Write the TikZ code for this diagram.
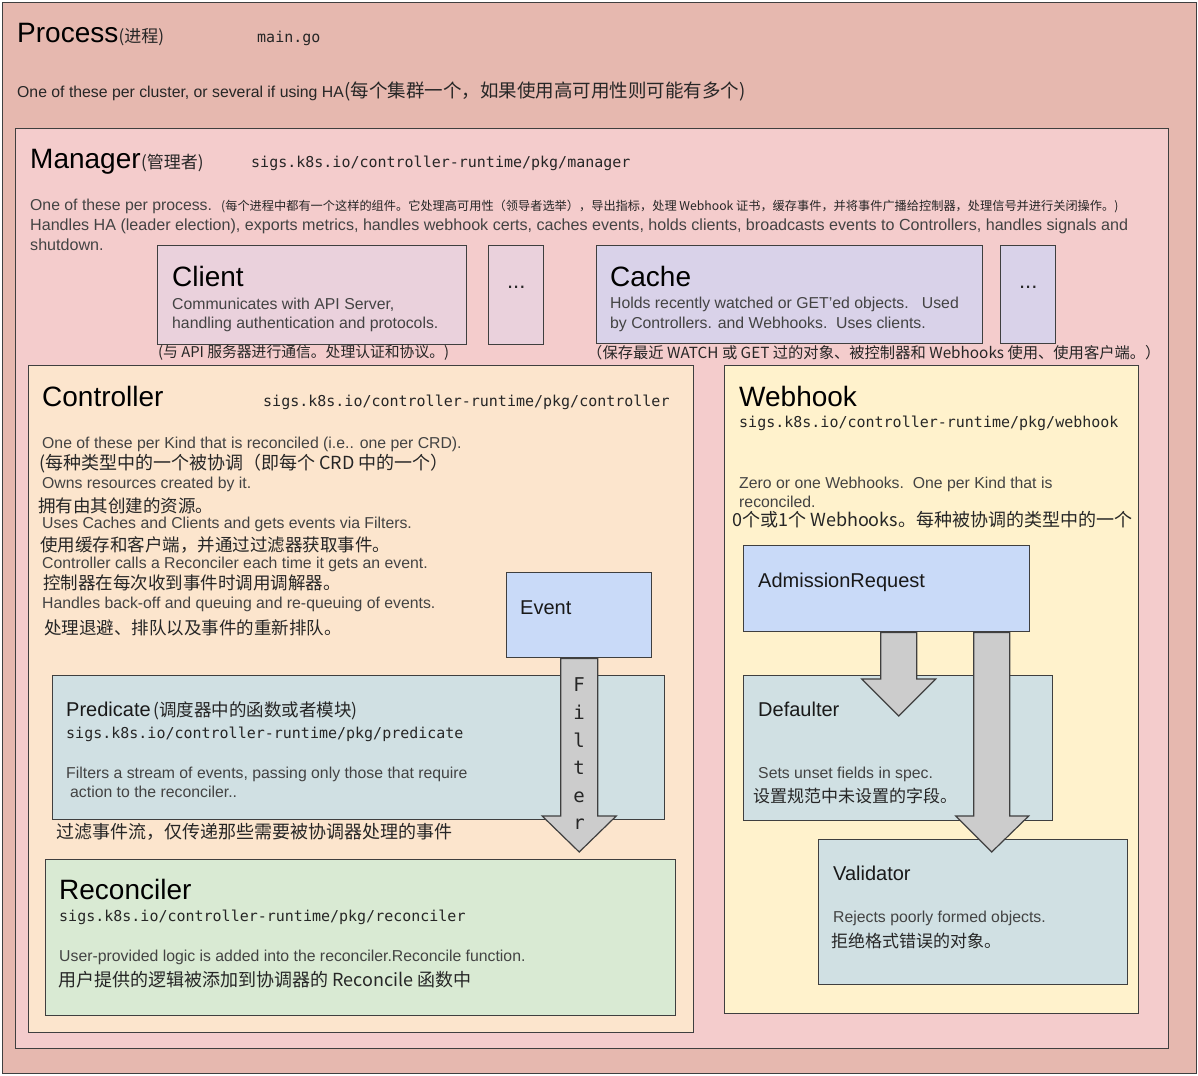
\documentclass[tikz,border=0pt]{standalone}
\usepackage{fontspec}
\setmainfont{Liberation Sans}
\setmonofont{DejaVu Sans Mono}
\newfontfamily\cjk{Noto Sans CJK SC}
\usetikzlibrary{calc}
\definecolor{procfill}{HTML}{E6B8AF}
\definecolor{mgrfill}{HTML}{F4CCCC}
\definecolor{clientfill}{HTML}{EAD1DC}
\definecolor{cachefill}{HTML}{D9D2E9}
\definecolor{ctrlfill}{HTML}{FCE5CD}
\definecolor{hookfill}{HTML}{FFF2CC}
\definecolor{bluefill}{HTML}{C9DAF8}
\definecolor{tealfill}{HTML}{D0E0E3}
\definecolor{greenfill}{HTML}{D9EAD3}
\definecolor{arrowfill}{HTML}{CCCCCC}
\definecolor{edgecol}{HTML}{3F3F3F}
\definecolor{desctext}{HTML}{434343}
\newcommand{\fsz}[1]{\fontsize{#1}{#1}\selectfont}
\begin{document}
\begin{tikzpicture}[x=1pt,y=-1pt,
  box/.style={draw=edgecol, line width=1.4pt, inner sep=0pt, anchor=north west},
  lbl/.style={anchor=base west, inner sep=0pt},
  ttl/.style={lbl, font=\fsz{28}, text=black},
  hdr/.style={lbl, font=\fsz{20}, text=black!90},
  desc/.style={lbl, font=\fsz{15.8}, text=desctext},
  zh/.style={lbl, font=\cjk\fsz{17.5}, text=black!85},
  pkg/.style={lbl, font=\ttfamily\fsz{15}, text=black!85},
  dotslbl/.style={lbl, anchor=base, font=\fsz{22}, text=black!85},
  blockarrow/.style={draw=edgecol, line width=1.2pt, fill=arrowfill, line join=miter}
]
\useasboundingbox (0,0) rectangle (1198,1075);

% ---------- boxes ----------
\node[box, fill=procfill, minimum width=1194pt, minimum height=1071pt] (process) at (2,2) {};
\node[box, fill=mgrfill, minimum width=1153pt, minimum height=920pt] (manager) at (15,128) {};
\node[box, fill=clientfill, minimum width=309pt, minimum height=99pt] (client) at (157,245) {};
\node[box, fill=clientfill, minimum width=55pt, minimum height=99pt] (cdots) at (488,245) {};
\node[box, fill=cachefill, minimum width=386pt, minimum height=98pt] (cache) at (596,245) {};
\node[box, fill=cachefill, minimum width=55pt, minimum height=98pt] (kdots) at (1000,245) {};
\node[box, fill=ctrlfill, minimum width=665pt, minimum height=667pt] (controller) at (28,365) {};
\node[box, fill=hookfill, minimum width=414pt, minimum height=648pt] (webhook) at (724,365) {};
\node[box, fill=bluefill, minimum width=145pt, minimum height=85pt] (event) at (506,572) {};
\node[box, fill=tealfill, minimum width=612pt, minimum height=144pt] (predicate) at (52,675) {};
\node[box, fill=greenfill, minimum width=630pt, minimum height=156pt] (reconciler) at (45,859) {};
\node[box, fill=bluefill, minimum width=286pt, minimum height=86pt] (admission) at (743,545) {};
\node[box, fill=tealfill, minimum width=309pt, minimum height=145pt] (defaulter) at (743,675) {};
\node[box, fill=tealfill, minimum width=309pt, minimum height=145pt] (validator) at (818,839) {};

% ---------- block arrows ----------
\draw[blockarrow] let \p1=(event.south), \p2=(reconciler.north) in
  (\x1-18.5pt,\y1) -- (\x1-18.5pt,\y2+43pt) -- (\x1-37pt,\y2+43pt) -- (\x1,\y2+7pt)
  -- (\x1+37pt,\y2+43pt) -- (\x1+18.5pt,\y2+43pt) -- (\x1+18.5pt,\y1) -- cycle;
\draw[blockarrow] let \p1=(admission.south), \p2=(defaulter.north) in
  (\x1-6pt,\y1) -- (\x1-6pt,\y2-4pt) -- (\x1-25pt,\y2-4pt) -- (\x1+12pt,\y2-41pt)
  -- (\x1+49pt,\y2-4pt) -- (\x1+30pt,\y2-4pt) -- (\x1+30pt,\y1) -- cycle;
\draw[blockarrow] let \p1=(admission.south), \p2=(validator.north) in
  (\x1+87pt,\y1) -- (\x1+87pt,\y2+23pt) -- (\x1+69pt,\y2+23pt) -- (\x1+105pt,\y2-13pt)
  -- (\x1+142pt,\y2+23pt) -- (\x1+123pt,\y2+23pt) -- (\x1+123pt,\y1) -- cycle;

% ---------- process ----------
\node[ttl] (ptitle) at (17,43) {Process};
\node[lbl, font=\cjk\fsz{17}, text=black!85] (psub) at (ptitle.base east) {(进程)};
\node[pkg] (pfile) at (257,43) {main.go};
\node[desc, text=black!85] (pdesc) at (17,98) {One of these per cluster, or several if using HA};
\node[lbl, font=\cjk\fsz{18.5}, text=black!85] (pzh) at (pdesc.base east) {(每个集群一个，如果使用高可用性则可能有多个)};

% ---------- manager ----------
\node[ttl] (mtitle) at (30,169) {Manager};
\node[lbl, font=\cjk\fsz{17}, text=black!85] (msub) at (mtitle.base east) {(管理者)};
\node[pkg] (mpkg) at (251,168) {sigs.k8s.io/controller-runtime/pkg/manager};
\node[desc] (mdesc1) at (30,211) {One of these per process.};
\node[lbl, font=\cjk\fsz{12.2}, text=black!85] (mzh) at (221,211) {(每个进程中都有一个这样的组件。它处理高可用性（领导者选举），导出指标，处理 Webhook 证书，缓存事件，并将事件广播给控制器，处理信号并进行关闭操作。)};
\node[desc, font=\fsz{16.1}] (mdesc2) at (30,231) {Handles HA (leader election), exports metrics, handles webhook certs, caches events, holds clients, broadcasts events to Controllers, handles signals and};
\node[desc, font=\fsz{16.1}] (mdesc3) at (30,251) {shutdown.};

% ---------- client / cache ----------
\node[ttl] (ctitle) at (172,286) {Client};
\node[desc] (cdesc1) at (172,309) {Communicates with API Server,};
\node[desc] (cdesc2) at (172,328) {handling authentication and protocols.};
\node[lbl, font=\cjk\fsz{14.8}, text=black!85] (czh) at (158,357) {(与 API 服务器进行通信。处理认证和协议。)};
\node[dotslbl] (cdotslbl) at ($(cdots.north)+(0,43)$) {...};

\node[ttl] (ktitle) at (610,286) {Cache};
\node[desc] (kdesc1) at (610,308) {Holds recently watched or GET'ed objects.\ \ \ Used};
\node[desc] (kdesc2) at (610,328) {by Controllers. and Webhooks.\ \ Uses clients.};
\node[lbl, font=\cjk\fsz{15.3}, text=black!85] (kzh) at (587,358) {（保存最近 WATCH 或 GET 过的对象、被控制器和 Webhooks 使用、使用客户端。）};
\node[dotslbl] (kdotslbl) at ($(kdots.north)+(0,43)$) {...};

% ---------- controller ----------
\node[ttl] (cttitle) at (42,406) {Controller};
\node[pkg] (ctpkg) at (263,406) {sigs.k8s.io/controller-runtime/pkg/controller};
\node[desc] (ct1) at (42,448) {One of these per Kind that is reconciled (i.e.. one per CRD).};
\node[zh, font=\cjk\fsz{18}] (ct1zh) at (39,469) {(每种类型中的一个被协调（即每个 CRD 中的一个）};
\node[desc] (ct2) at (42,488) {Owns resources created by it.};
\node[zh] (ct2zh) at (38,512) {拥有由其创建的资源。};
\node[desc] (ct3) at (42,528) {Uses Caches and Clients and gets events via Filters.};
\node[zh] (ct3zh) at (40,551) {使用缓存和客户端，并通过过滤器获取事件。};
\node[desc] (ct4) at (42,568) {Controller calls a Reconciler each time it gets an event.};
\node[zh] (ct4zh) at (43,589) {控制器在每次收到事件时调用调解器。};
\node[desc] (ct5) at (42,608) {Handles back-off and queuing and re-queuing of events.};
\node[zh] (ct5zh) at (44,634) {处理退避、排队以及事件的重新排队。};

\node[hdr] (eventlbl) at (520,614) {Event};

\node[hdr] (pdtitle) at (66,716) {Predicate};
\node[lbl, font=\cjk\fsz{17.5}, text=black!85] (pdsub) at ([xshift=2pt]pdtitle.base east) {(调度器中的函数或者模块)};
\node[pkg] (pdpkg) at (66,738) {sigs.k8s.io/controller-runtime/pkg/predicate};
\node[desc] (pd1) at (66,778) {Filters a stream of events, passing only those that require};
\node[desc] (pd2) at (70,797) {action to the reconciler..};
\node[zh, font=\cjk\fsz{18}] (pdzh) at (56,838) {过滤事件流，仅传递那些需要被协调器处理的事件};

\node[ttl] (rctitle) at (59,899) {Reconciler};
\node[pkg] (rcpkg) at (59,921) {sigs.k8s.io/controller-runtime/pkg/reconciler};
\node[desc] (rc1) at (59,961) {User-provided logic is added into the reconciler.Reconcile function.};
\node[zh, font=\cjk\fsz{18}] (rczh) at (58,986) {用户提供的逻辑被添加到协调器的 Reconcile 函数中};

\node[align=center, inner sep=0pt, font=\ttfamily\fsz{19}, text=black!85] (filterlbl) at (579,754)
  {F\\[8.6pt]i\\[8.6pt]l\\[8.6pt]t\\[8.6pt]e\\[8.6pt]r};

% ---------- webhook ----------
\node[ttl] (whtitle) at (739,406) {Webhook};
\node[pkg] (whpkg) at (739,427) {sigs.k8s.io/controller-runtime/pkg/webhook};
\node[desc] (wh1) at (739,488) {Zero or one Webhooks.\ \ One per Kind that is};
\node[desc] (wh2) at (739,507) {reconciled.};
\node[zh, font=\cjk\fsz{18}] (whzh) at (732,526) {0个或1个 Webhooks。每种被协调的类型中的一个};

\node[hdr] (admlbl) at (758,587) {AdmissionRequest};

\node[hdr] (dftitle) at (758,716) {Defaulter};
\node[desc] (df1) at (758,778) {Sets unset fields in spec.};
\node[zh, font=\cjk\fsz{17}] (dfzh) at (753,802) {设置规范中未设置的字段。};

\node[hdr] (vltitle) at (833,880) {Validator};
\node[desc] (vl1) at (833,922) {Rejects poorly formed objects.};
\node[zh, font=\cjk\fsz{17}] (vlzh) at (831,947) {拒绝格式错误的对象。};
\end{tikzpicture}
\end{document}
